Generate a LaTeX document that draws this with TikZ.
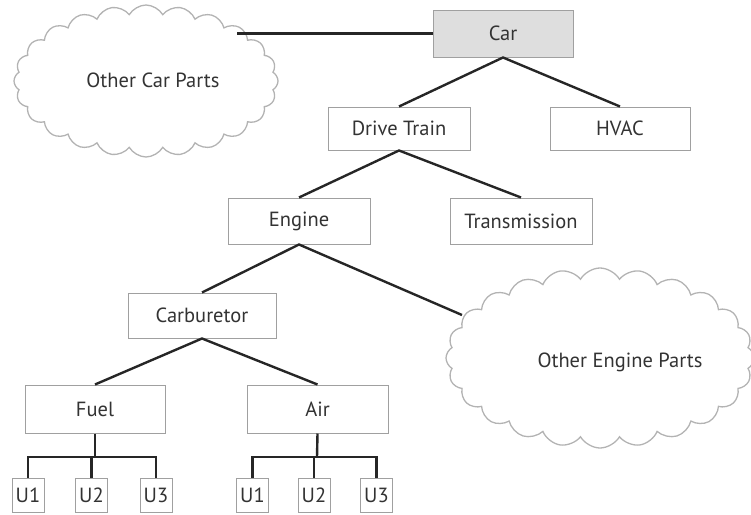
\documentclass[tikz,border=0pt]{standalone}
\usepackage{fontspec}
\setmainfont{PT Sans}
\usetikzlibrary{shapes.symbols}
\definecolor{boxline}{HTML}{A0A0A0}
\definecolor{txt}{HTML}{333333}
\definecolor{carfill}{HTML}{DEDEDE}
\tikzset{
  lbl/.style={text=txt, font=\fontsize{20.5}{24}\selectfont},
  box/.style={lbl, draw=boxline, line width=1pt, fill=white, inner sep=0pt},
  ubox/.style={box, minimum width=32pt, minimum height=34pt},
  conn/.style={draw=black!85, line width=2.4pt},
  cloudy/.style={cloud, draw=boxline!80, line width=1.3pt, cloud puffs=24, cloud puff arc=120, inner sep=0pt},
}
\begin{document}
\begin{tikzpicture}[x=1pt,y=-1pt]
\useasboundingbox (0,0) rectangle (751,514);
% clouds
\node[cloudy, minimum width=264pt, minimum height=152pt] (carcloud) at (146,81) {};
\node[lbl] (carcloudtxt) at (153,80) {Other Car Parts};
\node[cloudy, minimum width=308pt, minimum height=180pt] (engcloud) at (600,358) {};
\node[lbl] (engcloudtxt) at (620,362) {Other Engine Parts};
% boxes
\node[box, fill=carfill, minimum width=140pt, minimum height=47pt] (car) at (503,33.5) {Car};
\node[box, minimum width=142pt, minimum height=43pt] (dt) at (399,128.5) {Drive Train};
\node[box, minimum width=140pt, minimum height=43pt] (hvac) at (620,128.5) {HVAC};
\node[box, minimum width=142pt, minimum height=46pt] (eng) at (299,221) {Engine};
\node[box, minimum width=142pt, minimum height=46pt] (trans) at (521,221) {Transmission};
\node[box, minimum width=148pt, minimum height=45pt] (carb) at (202,315.5) {Carburetor};
\node[box, minimum width=140pt, minimum height=48pt] (fuel) at (95,409) {Fuel};
\node[box, minimum width=141pt, minimum height=48pt] (air) at (317.5,409) {Air};
\node[ubox] (fu1) at (28,495) {U1};
\node[ubox] (fu2) at (91.5,495) {U2};
\node[ubox] (fu3) at (156,495) {U3};
\node[ubox] (au1) at (252.5,495) {U1};
\node[ubox] (au2) at (314,495) {U2};
\node[ubox] (au3) at (376.5,495) {U3};
% connector ends
\coordinate (cc) at (237,33.5);
\coordinate (ec) at (462,315);
\coordinate (fbus) at (95,457);
\coordinate (abus) at (317,457);
% connectors
\draw[conn] (cc) -- (car.west);
\draw[conn] (dt.north) -- (car.south) -- (hvac.north);
\draw[conn] (eng.north) -- (dt.south) -- (trans.north);
\draw[conn] (carb.north) -- (eng.south) -- (ec);
\draw[conn] (fuel.north) -- (carb.south) -- (air.north);
\draw[conn] (fuel.south) -- (fbus);
\draw[conn] (fu1.north) |- (fbus) -| (fu3.north);
\draw[conn] (fbus) -- (fbus -| fu2.north) -- (fu2.north);
\draw[conn] (air.south) -- (abus);
\draw[conn] (au1.north) |- (abus) -| (au3.north);
\draw[conn] (abus) -- (abus -| au2.north) -- (au2.north);
\end{tikzpicture}
\end{document}
